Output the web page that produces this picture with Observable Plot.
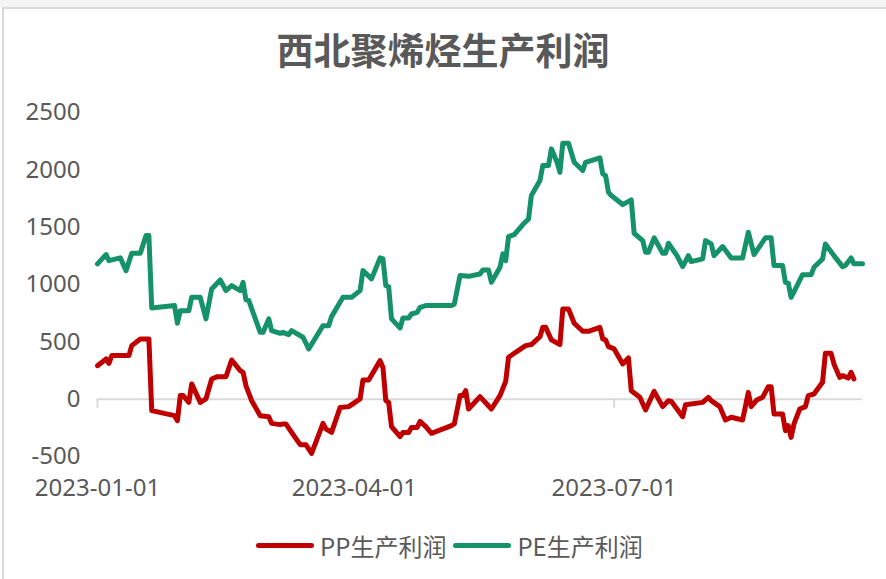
<!DOCTYPE html>
<html>
<head>
<meta charset="utf-8">
<script src="https://cdn.jsdelivr.net/npm/d3@7"></script>
<script src="https://cdn.jsdelivr.net/npm/@observablehq/plot@0.6"></script>
<style>
  html, body { margin: 0; padding: 0; background: #ffffff; }
  #page { position: relative; width: 886px; height: 579px; overflow: hidden; background: #ffffff;
          font-family: "Noto Sans", "Noto Sans CJK SC", sans-serif; color: #595959; }
  #topband { position: absolute; left: 0; top: 0; width: 886px; height: 7px; background: #f4f4f4; }
  #frame { position: absolute; left: 2px; top: 7px; width: 900px; height: 600px;
           border-top: 2px solid #d9d9d9; border-left: 2px solid #d9d9d9; box-sizing: border-box; }
  #title { position: absolute; left: 0; top: 24px; width: 886px; text-align: center;
           font-family: "Noto Sans CJK SC", sans-serif; font-weight: bold; font-size: 37px;
           line-height: 50px; color: #595959; }
  #chart { position: absolute; left: 0; top: 90px; }
  #legend { position: absolute; left: 256px; top: 530px; height: 30px; display: flex; align-items: center;
            font-family: "Noto Sans CJK SC", sans-serif; font-size: 24px; color: #595959; }
  .sw { display: inline-block; width: 58px; height: 5px; border-radius: 3px; margin-right: 6px; }
  .lab { margin-right: 7px; }
</style>
</head>
<body>
<div id="page">
  <div id="topband"></div>
  <div id="frame"></div>
  <div id="title"></div>
  <div id="chart"></div>
  <div id="legend"></div>
</div>
<script>
const titleText = "西北聚烯烃生产利润";
const seriesNames = ["PP生产利润", "PE生产利润"];
const seriesColors = ["#C00000", "#169268"];
const yTicks = [-500, 0, 500, 1000, 1500, 2000, 2500];
const xTicks = ["2023-01-01", "2023-04-01", "2023-07-01"];
const xDomain = ["2023-01-01", "2023-09-26"];

const ppDates = ["2023-01-01","2023-01-04","2023-01-05","2023-01-06","2023-01-12","2023-01-13","2023-01-16","2023-01-19","2023-01-20","2023-01-28","2023-01-29","2023-01-30","2023-01-31","2023-02-02","2023-02-03","2023-02-06","2023-02-08","2023-02-10","2023-02-12","2023-02-15","2023-02-17","2023-02-20","2023-02-21","2023-02-22","2023-02-24","2023-02-27","2023-03-02","2023-03-03","2023-03-06","2023-03-07","2023-03-08","2023-03-10","2023-03-13","2023-03-15","2023-03-17","2023-03-21","2023-03-22","2023-03-24","2023-03-27","2023-03-30","2023-04-03","2023-04-04","2023-04-06","2023-04-10","2023-04-11","2023-04-12","2023-04-13","2023-04-14","2023-04-17","2023-04-18","2023-04-20","2023-04-21","2023-04-23","2023-04-24","2023-04-26","2023-04-28","2023-05-05","2023-05-06","2023-05-08","2023-05-09","2023-05-10","2023-05-11","2023-05-15","2023-05-19","2023-05-22","2023-05-24","2023-05-25","2023-05-27","2023-05-31","2023-06-02","2023-06-05","2023-06-06","2023-06-07","2023-06-09","2023-06-12","2023-06-13","2023-06-15","2023-06-17","2023-06-20","2023-06-22","2023-06-26","2023-06-27","2023-06-28","2023-06-29","2023-07-01","2023-07-04","2023-07-06","2023-07-07","2023-07-10","2023-07-12","2023-07-15","2023-07-18","2023-07-20","2023-07-21","2023-07-23","2023-07-25","2023-07-26","2023-08-01","2023-08-03","2023-08-04","2023-08-07","2023-08-09","2023-08-11","2023-08-15","2023-08-17","2023-08-18","2023-08-20","2023-08-22","2023-08-24","2023-08-25","2023-08-26","2023-08-29","2023-08-30","2023-08-31","2023-09-01","2023-09-02","2023-09-04","2023-09-06","2023-09-07","2023-09-09","2023-09-12","2023-09-13","2023-09-15","2023-09-16","2023-09-18","2023-09-19","2023-09-21","2023-09-22","2023-09-23"];
const ppValues = [292,351,313,380,380,467,525,525,-100,-144,-188,31,31,-28,133,-28,2,176,196,196,342,249,234,118,-13,-144,-153,-211,-222,-216,-216,-290,-397,-397,-473,-211,-260,-290,-72,-65,2,168,168,336,277,-13,-28,-240,-327,-290,-290,-246,-246,-194,-240,-298,-231,-216,31,31,74,-86,22,-86,31,155,365,400,467,476,545,627,627,517,476,787,787,662,592,592,627,525,517,458,438,307,360,74,16,-94,68,-65,-13,-19,-86,-153,-48,-28,16,-13,-65,-182,-158,-182,59,-65,-7,16,109,109,-129,-129,-275,-231,-333,-216,-86,-65,31,45,147,400,400,307,190,205,184,234,176];

const peDates = ["2023-01-01","2023-01-04","2023-01-05","2023-01-09","2023-01-11","2023-01-13","2023-01-16","2023-01-18","2023-01-19","2023-01-20","2023-01-28","2023-01-29","2023-01-30","2023-02-02","2023-02-03","2023-02-06","2023-02-08","2023-02-10","2023-02-13","2023-02-15","2023-02-17","2023-02-20","2023-02-21","2023-02-22","2023-02-23","2023-02-27","2023-02-28","2023-03-02","2023-03-03","2023-03-06","2023-03-07","2023-03-09","2023-03-10","2023-03-14","2023-03-16","2023-03-21","2023-03-23","2023-03-24","2023-03-28","2023-03-31","2023-04-03","2023-04-04","2023-04-07","2023-04-10","2023-04-11","2023-04-12","2023-04-13","2023-04-14","2023-04-17","2023-04-18","2023-04-20","2023-04-21","2023-04-23","2023-04-24","2023-04-26","2023-05-05","2023-05-06","2023-05-08","2023-05-11","2023-05-15","2023-05-16","2023-05-18","2023-05-19","2023-05-22","2023-05-23","2023-05-24","2023-05-25","2023-05-27","2023-05-30","2023-06-01","2023-06-02","2023-06-05","2023-06-06","2023-06-08","2023-06-09","2023-06-11","2023-06-12","2023-06-13","2023-06-15","2023-06-17","2023-06-20","2023-06-21","2023-06-26","2023-06-27","2023-06-28","2023-06-29","2023-06-30","2023-07-04","2023-07-07","2023-07-08","2023-07-11","2023-07-12","2023-07-13","2023-07-15","2023-07-18","2023-07-19","2023-07-20","2023-07-23","2023-07-25","2023-07-27","2023-07-28","2023-08-01","2023-08-02","2023-08-04","2023-08-05","2023-08-08","2023-08-11","2023-08-15","2023-08-17","2023-08-19","2023-08-23","2023-08-25","2023-08-26","2023-08-29","2023-08-30","2023-08-31","2023-09-01","2023-09-05","2023-09-08","2023-09-09","2023-09-12","2023-09-13","2023-09-16","2023-09-19","2023-09-20","2023-09-22","2023-09-23","2023-09-26"];
const peValues = [1180,1261,1208,1232,1121,1272,1272,1427,1427,796,816,662,772,772,888,888,700,961,1040,947,990,947,1019,866,860,583,583,700,598,574,583,563,598,540,438,641,641,720,888,888,947,1121,1049,1232,1223,990,982,700,621,708,708,743,757,801,816,816,830,1078,1071,1092,1127,1127,1019,1150,1267,1208,1418,1435,1523,1572,1776,1907,2037,2037,2183,2066,1979,2232,2232,2066,1994,2066,2105,1965,1950,1805,1776,1697,1738,1447,1383,1281,1281,1407,1272,1272,1360,1252,1156,1252,1200,1223,1383,1354,1252,1331,1232,1232,1456,1261,1407,1407,1165,1165,1019,1011,888,1086,1086,1150,1223,1354,1252,1156,1165,1232,1180,1180];

const parse = d3.utcParse("%Y-%m-%d");
const pp = ppDates.map((d, i) => ({date: parse(d), value: ppValues[i]}));
const pe = peDates.map((d, i) => ({date: parse(d), value: peValues[i]}));
const fmt = d3.utcFormat("%Y-%m-%d");

document.getElementById("title").textContent = titleText;

const chart = Plot.plot({
  width: 886,
  height: 420,
  marginLeft: 97,
  marginRight: 24,
  marginTop: 22,
  marginBottom: 54,
  style: {fontFamily: "'Noto Sans', sans-serif", fontSize: "24px", color: "#595959", background: "transparent", overflow: "visible"},
  x: {type: "utc", domain: xDomain.map(parse)},
  y: {domain: [-500, 2500]},
  marks: [
    Plot.ruleY([0], {stroke: "#d9d9d9", strokeWidth: 2}),
    Plot.ruleX(xTicks.map(parse), {y1: 0, y2: -80, stroke: "#d9d9d9", strokeWidth: 2}),
    Plot.axisY({ticks: yTicks, label: null, tickSize: 0, tickPadding: 17, fontSize: 24, fill: "#595959", tickFormat: d => String(d).replace("−", "-")}),
    Plot.axisX({ticks: xTicks.map(parse), label: null, tickSize: 0, tickPadding: 22, fontSize: 24, fill: "#595959", tickFormat: fmt}),
    Plot.line(pp, {x: "date", y: "value", stroke: seriesColors[0], strokeWidth: 5, strokeLinejoin: "round", strokeLinecap: "round"}),
    Plot.line(pe, {x: "date", y: "value", stroke: seriesColors[1], strokeWidth: 5, strokeLinejoin: "round", strokeLinecap: "round"})
  ]
});
document.getElementById("chart").appendChild(chart);

const legend = document.getElementById("legend");
seriesNames.forEach((name, i) => {
  const sw = document.createElement("span");
  sw.className = "sw";
  sw.style.background = seriesColors[i];
  const lab = document.createElement("span");
  lab.className = "lab";
  lab.textContent = name;
  legend.appendChild(sw);
  legend.appendChild(lab);
});
</script>
</body>
</html>
